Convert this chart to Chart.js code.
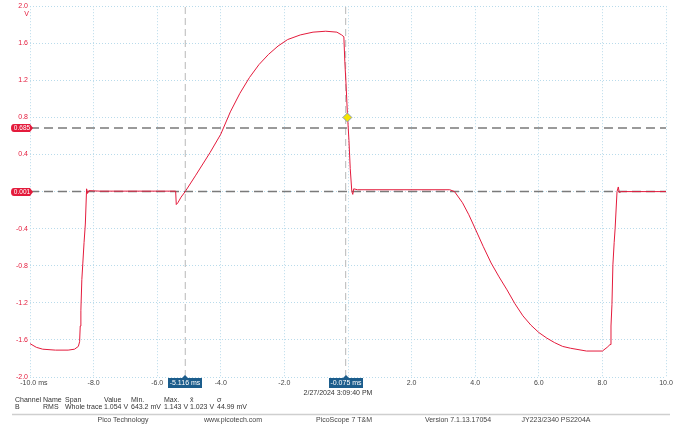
<!DOCTYPE html>
<html>
<head>
<meta charset="utf-8">
<script src="https://cdn.jsdelivr.net/npm/chart.js@4.4.1/dist/chart.umd.min.js"></script>
<style>
  html, body { margin: 0; padding: 0; background: #fff; }
  #wrap { position: relative; width: 681px; height: 425px; }
</style>
</head>
<body>
<div id="wrap"><canvas id="grafico" width="681" height="425"></canvas></div>
<script>
// ================== DADOS ==================
const tempos = [
  -10.0, -9.8, -9.6, -9.2, -8.8, -8.6, -8.48, -8.44, -8.42, -8.40, -8.37, -8.34, -8.30, -8.26, -8.22, -8.19, -8.15,
  -7.8, -6.0, -5.42, -5.40, -5.35, -5.25, -5.12, -4.8, -4.34, -4.0, -3.7, -3.4, -3.1, -2.8, -2.5, -2.2, -1.9,
  -1.5, -1.1, -0.7, -0.35, -0.2, -0.13, -0.10, -0.06, -0.02, 0.03, 0.07, 0.12, 0.15, 0.18, 0.3,
  3.2, 3.35, 3.6, 3.8, 4.0, 4.25, 4.5, 4.75, 5.0, 5.25, 5.5, 5.75, 6.0, 6.25, 6.5, 6.75, 7.0, 7.5, 8.0,
  8.15, 8.24, 8.27, 8.30, 8.33, 8.37, 8.40, 8.46, 8.50, 8.53, 8.6, 10.0
];
const volts = [
  -1.64, -1.68, -1.70, -1.71, -1.71, -1.70, -1.67, -1.62, -1.45, -1.28, -0.95, -0.78, -0.55, -0.35, 0.03, -0.02, 0.01,
  0.005, 0.005, 0.005, -0.14, -0.12, -0.06, 0.0, 0.17, 0.42, 0.62, 0.86, 1.06, 1.23, 1.37, 1.48, 1.57, 1.64,
  1.69, 1.72, 1.73, 1.72, 1.69, 1.67, 1.40, 1.15, 0.85, 0.55, 0.25, 0.0, -0.03, 0.03, 0.02,
  0.02, 0.0, -0.12, -0.25, -0.40, -0.59, -0.77, -0.92, -1.06, -1.21, -1.34, -1.44, -1.52, -1.58, -1.63, -1.67, -1.69, -1.72, -1.72,
  -1.68, -1.65, -1.45, -1.22, -0.79, -0.55, -0.40, 0.0, 0.05, -0.01, 0.0, 0.0
];
const ticksX = [-10, -8, -6, -4, -2, 0, 2, 4, 6, 8, 10];
const ticksY = [2.0, 1.6, 1.2, 0.8, 0.4, 0.0, -0.4, -0.8, -1.2, -1.6, -2.0];
const cursoresX = [-5.116, -0.075];
const rotulosCursorX = ["-5.116 ms", "-0.075 ms"];
const cursoresY = [0.685, 0.001];
const rotulosCursorY = ["0.685", "0.001"];
const marcadorX = [-0.02];
const marcadorY = [0.80];

// tabela de medidas
const cabecalho = ["Channel", "Name", "Span", "Value", "Min.", "Max.", "x\u0304", "\u03c3"];
const medidas = ["B", "RMS", "Whole trace", "1.054 V", "643.2 mV", "1.143 V", "1.023 V", "44.99 mV"];
const colunasX = [15, 43, 65, 104, 131, 164, 190, 217];
const rodape = ["Pico Technology", "www.picotech.com", "PicoScope 7 T&M", "Version 7.1.13.17054", "JY223/2340 PS2204A"];
const rodapeX = [123, 233, 344, 458, 556];
const dataHora = "2/27/2024 3:09:40 PM";

const VERMELHO = "#e41b3c";
const AZUL = "#1c5d8c";
const GRADE = "#b9dbeb";
const FONTE = "'Liberation Sans', Arial, sans-serif";

// ================== DATASETS ==================
const datasets = [];

datasets.push({
  label: "B",
  data: tempos.map((t, i) => ({ x: t, y: volts[i] })),
  borderColor: VERMELHO,
  borderWidth: 1,
  pointRadius: 0,
  tension: 0,
  order: 1
});

cursoresY.forEach(v => {
  datasets.push({
    data: [{ x: -10, y: v }, { x: 10, y: v }],
    borderColor: "#7a7a7a",
    borderWidth: 1.5,
    borderDash: [9, 5],
    pointRadius: 0,
    order: 3
  });
});

cursoresX.forEach(v => {
  datasets.push({
    data: [{ x: v, y: -2 }, { x: v, y: 2 }],
    borderColor: "#c4c4c4",
    borderWidth: 1.2,
    borderDash: [7, 4],
    pointRadius: 0,
    order: 4
  });
});

datasets.push({
  type: "scatter",
  data: marcadorX.map((x, i) => ({ x: x, y: marcadorY[i] })),
  pointStyle: "rectRot",
  pointRadius: 4.5,
  backgroundColor: "#f4e400",
  borderColor: "#8f9bb0",
  borderWidth: 1,
  order: 0
});

// ================== PLUGIN DE TEXTOS ==================
const extras = {
  id: "extras",
  afterDraw(chart) {
    const c = chart.ctx;
    const sx = chart.scales.x;
    const sy = chart.scales.y;
    c.save();

    // unidade do eixo Y
    c.fillStyle = VERMELHO;
    c.font = "7px " + FONTE;
    c.textAlign = "right";
    c.textBaseline = "middle";
    c.fillText("V", 29, 14);

    // etiquetas dos cursores horizontais
    cursoresY.forEach((v, i) => {
      const y = Math.round(sy.getPixelForValue(v));
      c.fillStyle = VERMELHO;
      c.beginPath();
      c.moveTo(14, y - 4);
      c.lineTo(30, y - 4);
      c.lineTo(33, y);
      c.lineTo(30, y + 4);
      c.lineTo(14, y + 4);
      c.quadraticCurveTo(11, y + 4, 11, y);
      c.quadraticCurveTo(11, y - 4, 14, y - 4);
      c.fill();
      c.fillStyle = "#fff";
      c.font = "6.5px " + FONTE;
      c.textAlign = "center";
      c.fillText(rotulosCursorY[i], 22, y + 0.5);
    });

    // etiquetas dos cursores verticais
    cursoresX.forEach((v, i) => {
      const x = Math.round(sx.getPixelForValue(v));
      const top = 378;
      c.fillStyle = AZUL;
      c.fillRect(x - 17, top, 34, 10);
      c.beginPath();
      c.moveTo(x - 3, top);
      c.lineTo(x, top - 3);
      c.lineTo(x + 3, top);
      c.fill();
      c.fillStyle = "#fff";
      c.font = "7px " + FONTE;
      c.textAlign = "center";
      c.fillText(rotulosCursorX[i], x, top + 5.5);
    });

    // data e hora
    c.fillStyle = "#333";
    c.font = "7px " + FONTE;
    c.textAlign = "center";
    c.fillText(dataHora, 338, 393);

    // tabela de medidas
    c.textAlign = "left";
    c.fillStyle = "#333";
    cabecalho.forEach((t, i) => c.fillText(t, colunasX[i], 400));
    medidas.forEach((t, i) => c.fillText(t, colunasX[i], 407));

    // linha separadora
    c.strokeStyle = "#cfcfcf";
    c.lineWidth = 1.5;
    c.beginPath();
    c.moveTo(12, 414.5);
    c.lineTo(670, 414.5);
    c.stroke();

    // rodapé
    c.fillStyle = "#444";
    c.textAlign = "center";
    rodape.forEach((t, i) => c.fillText(t, rodapeX[i], 420));

    c.restore();
  }
};

// ================== GRÁFICO ==================
const ctx = document.getElementById("grafico").getContext("2d");
let grafico = new Chart(ctx, {
  type: "line",
  data: { datasets: datasets },
  options: {
    responsive: false,
    animation: false,
    devicePixelRatio: 1,
    layout: { padding: { left: 0, right: 15, top: 4, bottom: 0 } },
    plugins: { legend: { display: false }, tooltip: { enabled: false } },
    scales: {
      x: {
        type: "linear",
        min: -10,
        max: 10,
        afterBuildTicks: s => { s.ticks = ticksX.map(v => ({ value: v })); },
        afterFit: s => { s.height = 48; },
        border: { display: false, dash: [1, 2] },
        grid: { color: GRADE, drawTicks: false, lineWidth: 1 },
        ticks: {
          color: "#444",
          padding: 2,
          maxRotation: 0,
          font: { size: 7, family: FONTE },
          callback: v => v === -10 ? "    -10.0 ms" : v.toFixed(1)
        }
      },
      y: {
        type: "linear",
        min: -2,
        max: 2,
        afterBuildTicks: s => { s.ticks = ticksY.map(v => ({ value: v })); },
        afterFit: s => { s.width = 30; },
        border: { display: false, dash: [1, 2] },
        grid: { color: GRADE, drawTicks: false, lineWidth: 1 },
        ticks: {
          color: VERMELHO,
          padding: 2,
          font: { size: 7, family: FONTE },
          callback: v => v.toFixed(1)
        }
      }
    }
  },
  plugins: [extras]
});
</script>
</body>
</html>
